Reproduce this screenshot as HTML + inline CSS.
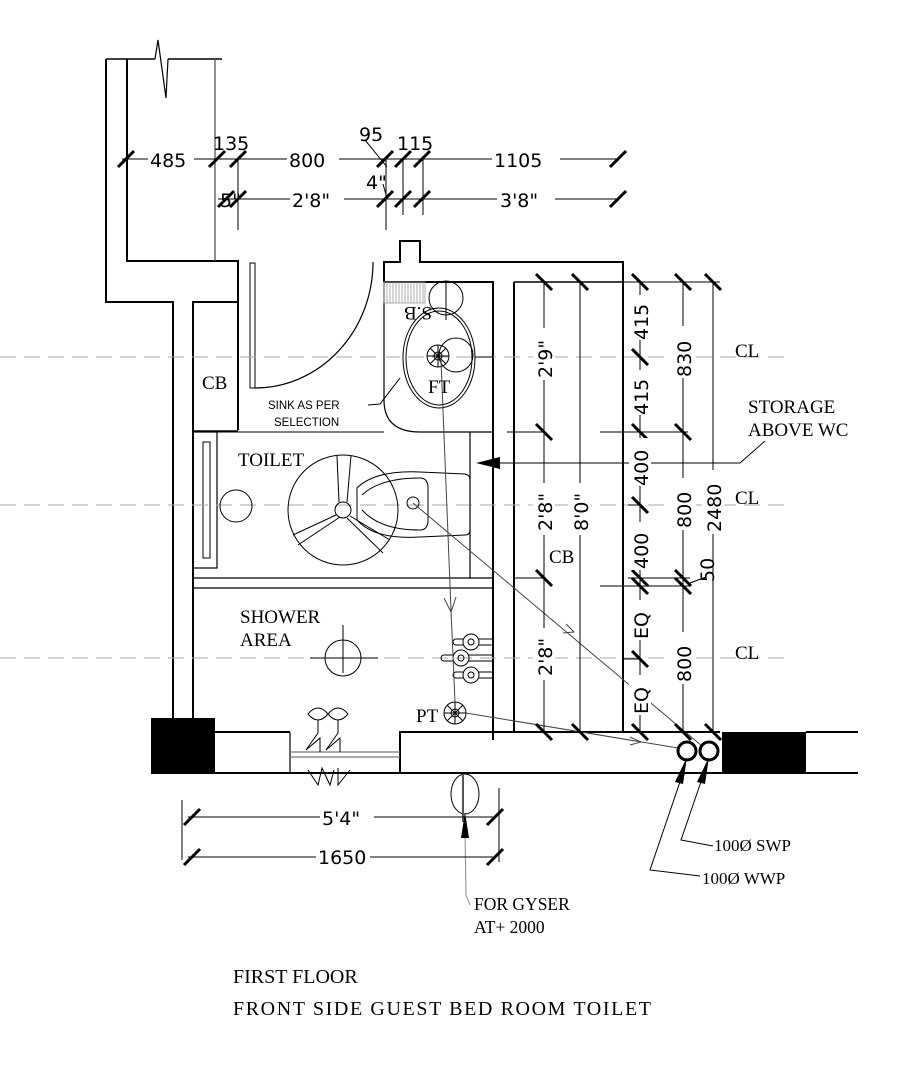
<!DOCTYPE html>
<html><head><meta charset="utf-8"><style>
html,body{margin:0;padding:0;background:#fff}
svg{display:block}
.s{font-family:"DejaVu Sans","Liberation Sans",sans-serif;font-size:19px;fill:#000}
.r{font-family:"Liberation Serif",serif;font-size:19px;fill:#000}
.n{font-family:"Liberation Sans",sans-serif;font-size:11.5px;fill:#000}
</style></head><body>
<svg width="909" height="1091" viewBox="0 0 909 1091" xmlns="http://www.w3.org/2000/svg">
<rect width="909" height="1091" fill="#fff"/>
<g fill="none" stroke="#000" stroke-width="2">
<polyline points="106,59 106,302 173,302 173,718"/>
<polyline points="127,59 127,261 238,261 238,302 193,302 193,718"/>
<line x1="106" y1="59" x2="155" y2="59" stroke-width="1.5"/>
<line x1="168" y1="59" x2="222" y2="59" stroke-width="1.5"/>
<polyline points="155,59 158,40 166,98 168,59" stroke-width="1.2"/>
<line x1="215" y1="59" x2="215" y2="261" stroke="#555" stroke-width="1.3"/>
<line x1="238" y1="302" x2="238" y2="430"/>
<line x1="193" y1="431" x2="238" y2="431" stroke-width="1.5"/>
<rect x="193" y="432" width="24" height="136" stroke-width="1.2"/>
<rect x="203" y="442" width="7" height="116" stroke-width="1"/>
<rect x="250" y="263" width="5" height="125" stroke-width="1"/>
<path d="M255,388 A118,126 0 0 0 373,262" stroke-width="1.2"/>
<polyline points="384,282 384,262 400,262 400,241 420,241 420,262 623,262 623,732"/>
<polyline points="384,282 493,282 493,740" />
<path d="M384,282 L384,400 Q384,432 420,432" stroke-width="1.2"/>
<line x1="420" y1="432" x2="493" y2="432" stroke-width="1.2"/>
<line x1="514" y1="282" x2="514" y2="732"/>
<line x1="514" y1="282" x2="623" y2="282" stroke-width="1.5"/>
<line x1="514" y1="732" x2="623" y2="732" stroke-width="1.5"/>
<line x1="217" y1="432" x2="384" y2="432" stroke-width="1"/>
<line x1="470" y1="432" x2="470" y2="578" stroke-width="1.2"/>
<line x1="193" y1="578" x2="493" y2="578" stroke-width="1.3"/>
<line x1="193" y1="588" x2="493" y2="588" stroke-width="1.3"/>
<polyline points="215,732 290,732"/>
<polyline points="151,773 400,773 400,732 720,732"/>
<line x1="400" y1="773" x2="858" y2="773"/>
<line x1="806" y1="732" x2="858" y2="732"/>
<line x1="290" y1="732" x2="290" y2="773" stroke-width="1.2"/>
<line x1="290" y1="752" x2="400" y2="752" stroke="#777" stroke-width="1.2"/>
<line x1="290" y1="757" x2="400" y2="757" stroke="#777" stroke-width="1.2"/>
</g>
<rect x="151" y="718" width="64" height="55" fill="#000"/>
<rect x="722" y="732" width="84" height="41" fill="#000"/>
<g stroke="#999" stroke-width="0.8">
<rect x="384" y="282" width="41" height="21" fill="none"/>
<path d="M387,282v21M390,282v21M393,282v21M396,282v21M399,282v21M402,282v21M405,282v21M408,282v21M411,282v21M414,282v21M417,282v21M420,282v21M423,282v21"/>
</g>
<g stroke="#aaa" stroke-width="1" stroke-dasharray="16,8">
<line x1="0" y1="357" x2="790" y2="357"/>
<line x1="0" y1="505" x2="790" y2="505"/>
<line x1="0" y1="658" x2="790" y2="658"/>
</g>
<g fill="none" stroke="#000" stroke-width="1">
<circle cx="446" cy="298" r="17"/>
<line x1="446" y1="282" x2="446" y2="320"/>
<ellipse cx="439" cy="358" rx="36" ry="50"/>
<ellipse cx="439" cy="358" rx="33" ry="47"/>
<circle cx="456" cy="355" r="17"/>
<circle cx="438" cy="356" r="11"/>
<circle cx="438" cy="356" r="4"/>
<path d="M427,356h22M438,345v22M430,348l16,16M446,348l-16,16"/>
<line x1="475" y1="357" x2="493" y2="357"/>
<polyline points="368,405 380,404 400,378"/>
<circle cx="236" cy="506" r="16"/>
<circle cx="343" cy="510" r="55"/>
<circle cx="343" cy="510" r="8"/>
<path d="M339,502 L337,456 M347,502 L351,456 M336,515 L293,535 M340,517 L298,545 M350,516 L390,540 M347,518 L383,553"/>
<path d="M357,488 Q375,470 420,472 L465,474 Q470,475 470,480 L470,530 Q470,535 465,535 L420,537 Q375,540 357,520 Z"/>
<path d="M362,495 Q380,478 420,478 Q428,478 428,488 L428,520 Q428,530 420,530 Q380,530 362,510"/>
<circle cx="413" cy="503" r="6"/>
<circle cx="343" cy="658" r="18"/>
<path d="M343,625v48M310,658h68"/>
<g>
<circle cx="471" cy="642" r="8"/><circle cx="471" cy="642" r="3"/>
<path d="M463,639h-7a3,3 0 0 0 0,6h7M479,639h14M479,645h14"/>
<circle cx="461" cy="658" r="8"/><circle cx="461" cy="658" r="3"/>
<path d="M453,655h-9a3,3 0 0 0 0,6h9M469,655h24M469,661h24"/>
<circle cx="471" cy="675" r="8"/><circle cx="471" cy="675" r="3"/>
<path d="M463,672h-7a3,3 0 0 0 0,6h7M479,672h14M479,678h14"/>
</g>
<circle cx="455" cy="713" r="11"/><circle cx="455" cy="713" r="4"/>
<path d="M444,713h22M455,702v22M447,705l16,16M463,705l-16,16"/>
<path d="M308,714 q10,-12 20,0 q-10,12 -20,0 Z M328,714 q10,-12 20,0 q-10,12 -20,0 Z"/>
<path d="M318,720 L318,733 L306,750 L320,738 L320,752 M338,720 L338,733 L326,750 L340,738 L340,752"/>
<path d="M308,770 L318,785 L322,768 L330,785 L334,770 M338,768 L338,785 L350,770"/>
<polyline points="441,360 451,610 455,702" stroke="#444"/>
<path d="M444,598 L451,612 L456,597" stroke="#444"/>
<line x1="413" y1="503" x2="702" y2="746" stroke="#444"/>
<path d="M566,624 L574,632 L563,633" stroke="#444"/>
<line x1="466" y1="713" x2="678" y2="748" stroke="#444"/>
<path d="M630,737 L641,742 L630,745" stroke="#444"/>
<circle cx="687" cy="751" r="9" stroke-width="3"/>
<circle cx="709" cy="751" r="9" stroke-width="3"/>
<polyline points="490,463 740,463 765,441"/>
<ellipse cx="465" cy="794" rx="14" ry="20"/>
<line x1="463" y1="774" x2="463" y2="822" stroke="#555" stroke-width="2"/>
<polyline points="465,830 466,895 470,905" stroke="#888"/>
<polyline points="684,770 650,870 700,876"/>
<polyline points="705,770 681,840 713,846"/>
</g>
<path d="M476,463 L500,457 L500,469 Z" fill="#000"/>
<path d="M465,812 L461,838 L469,838 Z" fill="#000"/>
<path d="M687,757 L675,782 L683,784 Z" fill="#000"/>
<path d="M709,757 L697,782 L705,784 Z" fill="#000"/>
<g fill="none" stroke="#000" stroke-width="1">
<line x1="122" y1="159" x2="618" y2="159"/>
<line x1="218" y1="199" x2="618" y2="199"/>
<line x1="238" y1="159" x2="238" y2="230"/>
<line x1="386" y1="159" x2="386" y2="230"/>
<line x1="403" y1="159" x2="403" y2="215"/>
<line x1="423" y1="159" x2="423" y2="215"/>
<line x1="365" y1="140" x2="387" y2="167"/>
<line x1="383" y1="184" x2="387" y2="198"/>
<line x1="544" y1="282" x2="544" y2="732"/>
<line x1="580" y1="282" x2="580" y2="732"/>
<line x1="640" y1="282" x2="640" y2="732"/>
<line x1="683" y1="282" x2="683" y2="732"/>
<line x1="713" y1="282" x2="713" y2="732"/>
<line x1="623" y1="282" x2="720" y2="282"/>
<line x1="623" y1="732" x2="720" y2="732"/>
<line x1="507" y1="432" x2="544" y2="432"/>
<line x1="600" y1="432" x2="688" y2="432"/>
<line x1="514" y1="578" x2="544" y2="578"/>
<line x1="628" y1="578" x2="690" y2="578"/>
<line x1="600" y1="586" x2="690" y2="586"/>
<line x1="628" y1="505" x2="640" y2="505"/>
<line x1="623" y1="659" x2="640" y2="659"/>
<line x1="690" y1="583" x2="706" y2="577"/>
<line x1="188" y1="817" x2="495" y2="817"/>
<line x1="188" y1="857" x2="495" y2="857"/>
<line x1="182" y1="800" x2="182" y2="860"/>
<line x1="499" y1="788" x2="499" y2="862"/>
</g>
<g stroke="#000" stroke-width="3">
<path d="M118,167l16,-16M209,167l16,-16M230,167l16,-16M377,167l16,-16M395,167l16,-16M414,167l16,-16M610,167l16,-16"/>
<path d="M218,207l16,-16M230,207l16,-16M377,207l16,-16M395,207l16,-16M414,207l16,-16M610,207l16,-16"/>
<path d="M536,274l16,16M572,274l16,16M632,274l16,16M675,274l16,16M705,274l16,16"/>
<path d="M632,349l16,16"/>
<path d="M536,424l16,16M632,424l16,16M675,424l16,16"/>
<path d="M632,497l16,16"/>
<path d="M536,570l16,16M632,570l16,16M632,578l16,16M675,570l16,16M675,578l16,16"/>
<path d="M632,651l16,16"/>
<path d="M536,724l16,16M572,724l16,16M632,724l16,16M675,724l16,16M705,724l16,16"/>
<path d="M184,825l16,-16M487,825l16,-16M184,865l16,-16M487,865l16,-16"/>
</g>
<g fill="#fff">
<rect x="148" y="148" width="46" height="22"/><rect x="287" y="148" width="52" height="22"/><rect x="492" y="148" width="68" height="22"/>
<rect x="290" y="188" width="54" height="22"/><rect x="497" y="188" width="58" height="22"/>
<rect x="533" y="328" width="22" height="52"/><rect x="533" y="483" width="22" height="52"/><rect x="533" y="628" width="22" height="52"/>
<rect x="569" y="483" width="22" height="52"/>
<rect x="629" y="295" width="22" height="45"/><rect x="629" y="370" width="22" height="45"/><rect x="629" y="438" width="22" height="48"/><rect x="629" y="522" width="22" height="48"/>
<rect x="629" y="600" width="22" height="40"/><rect x="629" y="675" width="22" height="40"/>
<rect x="672" y="326" width="22" height="52"/><rect x="672" y="478" width="22" height="52"/><rect x="672" y="632" width="22" height="52"/>
<rect x="702" y="470" width="22" height="64"/>
<rect x="320" y="806" width="54" height="22"/><rect x="316" y="846" width="54" height="22"/>
</g>
<g class="s">
<text x="150" y="167">485</text>
<text x="213" y="150">135</text>
<text x="289" y="167">800</text>
<text x="359" y="141">95</text>
<text x="397" y="150">115</text>
<text x="494" y="167">1105</text>
<text x="220" y="207">5"</text>
<text x="292" y="207">2'8"</text>
<text x="366" y="189">4"</text>
<text x="500" y="207">3'8"</text>
<text x="322" y="825">5'4"</text>
<text x="318" y="864">1650</text>
<g transform="rotate(-90)">
<text x="-378" y="552">2'9"</text>
<text x="-531" y="552">2'8"</text>
<text x="-676" y="552">2'8"</text>
<text x="-531" y="588">8'0"</text>
<text x="-340" y="648">415</text>
<text x="-415" y="648">415</text>
<text x="-486" y="648">400</text>
<text x="-569" y="648">400</text>
<text x="-639" y="648">EQ</text>
<text x="-714" y="648">EQ</text>
<text x="-377" y="691">830</text>
<text x="-528" y="691">800</text>
<text x="-682" y="691">800</text>
<text x="-532" y="721">2480</text>
<text x="-582" y="714">50</text>
</g>
</g>
<g class="r">
<text x="202" y="389">CB</text>
<text x="428" y="393">FT</text>
<text transform="translate(432,307) rotate(180)" x="0" y="0">S.B</text>
<text x="238" y="466">TOILET</text>
<text x="240" y="623">SHOWER</text>
<text x="240" y="646">AREA</text>
<text x="416" y="722">PT</text>
<text x="549" y="563">CB</text>
<text x="735" y="357">CL</text>
<text x="735" y="504">CL</text>
<text x="735" y="659">CL</text>
<text x="748" y="413">STORAGE</text>
<text x="748" y="436">ABOVE WC</text>
<text x="714" y="851" font-size="17">100Ø SWP</text>
<text x="702" y="884" font-size="17">100Ø WWP</text>
<text x="474" y="910" font-size="17.5">FOR GYSER</text>
<text x="474" y="933" font-size="17.5">AT+ 2000</text>
<text x="233" y="983" font-size="20">FIRST FLOOR</text>
<text x="233" y="1015" font-size="20" textLength="418">FRONT SIDE GUEST BED ROOM TOILET</text>
</g>
<g class="n">
<text x="268" y="409">SINK AS PER</text>
<text x="274" y="426">SELECTION</text>
</g>
</svg>
</body></html>
